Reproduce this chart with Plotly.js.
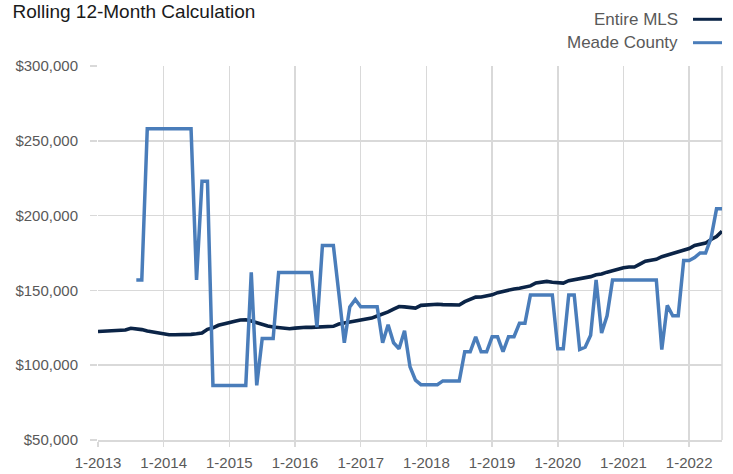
<!DOCTYPE html>
<html>
<head>
<meta charset="utf-8">
<script src="https://cdn.plot.ly/plotly-3.0.1.min.js"></script>
<style>html,body{margin:0;padding:0;background:#fff;}#chart{width:733px;height:474px;}</style>
</head>
<body>
<div id="chart"></div>
<script>
// Month index 0 = 1-2013 ... 114 = 7-2022
const tickLabels = ['1-2013','1-2014','1-2015','1-2016','1-2017','1-2018','1-2019','1-2020','1-2021','1-2022'];
const tickMonths = [0,12,24,36,48,60,72,84,96,108];

const entireMLS = [
  122500,122700,122500,122600,123000,123500,124700,124500,123800,122800,
  122200,121500,120800,120400,120400,120400,120400,120600,121000,121500,
  124000,125000,126700,127800,128500,129400,130200,130400,129600,128500,
  127000,126200,125500,125200,125000,124400,124800,125200,125400,125300,
  125400,125400,125500,126000,127500,128200,129000,130000,130300,130800,
  131500,132900,134200,135600,137500,139200,139000,138500,138200,140000,
  140400,140600,140700,140500,140500,140200,140200,142500,144000,145500,
  145600,146000,147000,148500,149500,150400,151000,151500,152000,153000,
  155000,155500,156000,155500,155000,154900,156500,157100,157800,158400,
  159200,160500,161000,162200,163200,164400,165200,165600,165600,167500,
  169500,170200,170800,172500,173500,175000,175800,176700,178000,180000,
  180800,181600,184000,186000,189600
];

const meadeCounty = [
  null,null,null,null,null,null,null,157000,157000,258000,
  258000,258000,258000,258000,258000,258000,258000,258000,157000,223000,
  223000,86500,86500,86500,86500,86500,86500,86500,162000,86500,
  117800,117800,117800,162000,162000,162000,162000,162000,162000,162000,
  125500,180000,180000,180000,148000,115000,139000,144000,139000,139000,
  139000,139000,115000,127000,115000,111000,123000,99000,90000,87000,
  87000,87000,87000,89500,89500,89500,89500,109000,109000,119000,
  109000,109000,119000,119000,109000,119000,119000,128000,128000,147000,
  147000,147000,147000,147000,111000,111000,147000,147000,110500,112000,
  120000,157000,121500,133000,157000,157000,157000,157000,157000,157000,
  157000,157000,157000,110500,140000,133000,133000,170000,170000,172000,
  175000,175000,185000,204500,204500
];

const seriesNames = ['Entire MLS','Meade County'];
const colors = ['#0b2447','#4a7dba'];

const months = entireMLS.map((_, i) => i);

const FONT = '"Liberation Sans", Arial, sans-serif';

const traces = [
  {x: months, y: entireMLS, name: seriesNames[0], type: 'scatter', mode: 'lines',
   line: {color: colors[0], width: 3.6}, connectgaps: false, hoverinfo: 'skip'},
  {x: months, y: meadeCounty, name: seriesNames[1], type: 'scatter', mode: 'lines',
   line: {color: colors[1], width: 3.5}, connectgaps: false, hoverinfo: 'skip'}
];

const grid = '#d9d9d9';
const layout = {
  width: 733, height: 474,
  margin: {l: 98, r: 11, t: 66, b: 34},
  paper_bgcolor: '#fff', plot_bgcolor: '#fff',
  showlegend: false,
  font: {family: FONT, color: '#595959', size: 15},
  title: {text: 'Rolling 12-Month Calculation', x: 0.017, xref: 'container', xanchor: 'left',
          y: 0.977, yref: 'container', yanchor: 'middle',
          font: {family: FONT, size: 19, color: '#1a1a1a'}},
  xaxis: {
    range: [0, 114], tickmode: 'array', tickvals: tickMonths, ticktext: tickLabels,
    showgrid: true, gridcolor: grid, gridwidth: 1.5, zeroline: false,
    showline: true, linecolor: grid, linewidth: 1.5,
    ticks: 'outside', ticklen: 5, tickcolor: grid, tickwidth: 1.5,
    ticklabelstandoff: 3,
    tickfont: {family: FONT, size: 15, color: '#595959'}, fixedrange: true
  },
  yaxis: {
    range: [50000, 300000], dtick: 50000, tick0: 50000, tickformat: '$,.0f',
    showgrid: true, gridcolor: grid, gridwidth: 1.5, zeroline: false,
    showline: false,
    ticks: 'outside', ticklen: 7, tickcolor: grid, tickwidth: 1.5,
    ticklabelstandoff: 9,
    tickfont: {family: FONT, size: 15, color: '#595959'}, fixedrange: true
  },
  shapes: [
    {type: 'line', xref: 'paper', yref: 'paper', x0: 1, x1: 1, y0: 0, y1: 1,
     line: {color: grid, width: 1.5}, layer: 'below'},
    {type: 'line', xref: 'paper', yref: 'paper', x0: 0.9535, x1: 1.0, y0: 1.1249, y1: 1.1249,
     line: {color: colors[0], width: 3}},
    {type: 'line', xref: 'paper', yref: 'paper', x0: 0.9535, x1: 1.0, y0: 1.0623, y1: 1.0623,
     line: {color: colors[1], width: 3}}
  ],
  annotations: [
    {text: seriesNames[0], xref: 'paper', yref: 'paper', x: 0.9327, y: 1.1249,
     xanchor: 'right', yanchor: 'middle', showarrow: false,
     font: {family: FONT, size: 17, color: '#595959'}},
    {text: seriesNames[1], xref: 'paper', yref: 'paper', x: 0.9327, y: 1.0623,
     xanchor: 'right', yanchor: 'middle', showarrow: false,
     font: {family: FONT, size: 17, color: '#595959'}}
  ]
};

Plotly.newPlot('chart', traces, layout, {staticPlot: true, displayModeBar: false});
</script>
</body>
</html>
